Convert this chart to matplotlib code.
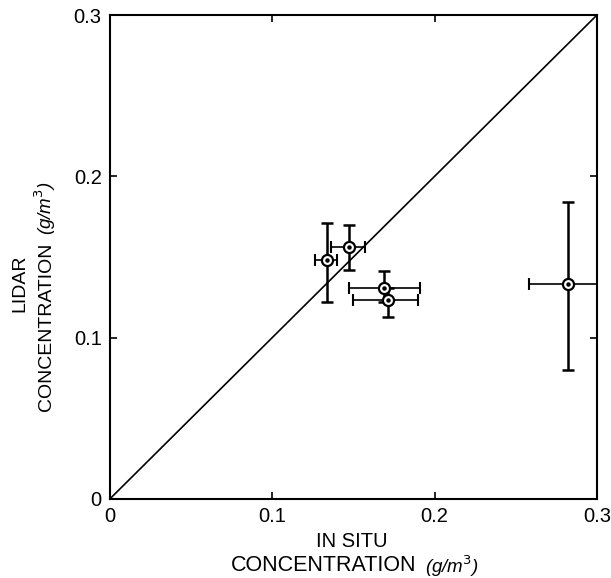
import numpy as np
import matplotlib.pyplot as plt

plt.rcParams["font.family"] = ["Liberation Sans", "DejaVu Sans"]

# in situ vs lidar concentrations (g/m3)
in_situ = np.array([0.134, 0.147, 0.169, 0.171, 0.282])
lidar = np.array([0.148, 0.156, 0.131, 0.123, 0.133])
in_situ_lo = np.array([0.126, 0.136, 0.147, 0.150, 0.258])
in_situ_hi = np.array([0.140, 0.157, 0.191, 0.190, 0.310])
lidar_lo = np.array([0.122, 0.142, 0.122, 0.113, 0.080])
lidar_hi = np.array([0.171, 0.170, 0.141, 0.131, 0.184])
ticks = [0, 0.1, 0.2, 0.3]
tick_labels = ["0", "0.1", "0.2", "0.3"]

fig = plt.figure(figsize=(6.11, 5.78), dpi=100)
ax = fig.add_axes([0.18, 0.137, 0.797, 0.837])

# 1:1 line
ax.plot([0, 0.3], [0, 0.3], color="black", linewidth=1.2)

# vertical bars heavier than the horizontal ones, like the original
ax.errorbar(in_situ, lidar, yerr=[lidar - lidar_lo, lidar_hi - lidar],
            fmt="none", ecolor="black", elinewidth=1.8, capsize=4.5, capthick=1.8)
ax.errorbar(in_situ, lidar, xerr=[in_situ - in_situ_lo, in_situ_hi - in_situ],
            fmt="none", ecolor="black", elinewidth=1.2, capsize=4.5, capthick=1.5)
ax.plot(in_situ, lidar, "o", markersize=8, markerfacecolor="white",
        markeredgecolor="black", markeredgewidth=1.6, zorder=3)
ax.plot(in_situ, lidar, "o", markersize=2.2, color="black", zorder=4)

ax.set_xlim(0, 0.3)
ax.set_ylim(0, 0.3)
ax.set_xticks(ticks)
ax.set_xticklabels(tick_labels)
ax.set_yticks(ticks)
ax.set_yticklabels(tick_labels)
ax.tick_params(direction="in", length=5, width=1.2, labelsize=14.5,
               top=True, right=True, pad=6)
for s in ax.spines.values():
    s.set_linewidth(1.5)

# axis labels
fig.text(0.575, 0.064, "IN SITU", ha="center", va="center", fontsize=14.5)
fig.text(0.53, 0.021, "CONCENTRATION", ha="center", va="center", fontsize=15.5)
fig.text(0.74, 0.021, "(g/m$^3$)", ha="center", va="center",
         fontsize=13.5, style="italic")
fig.text(0.032, 0.51, "LIDAR", ha="center", va="center", fontsize=14,
         rotation=90)
fig.text(0.076, 0.434, "CONCENTRATION", ha="center", va="center",
         fontsize=14, rotation=90)
fig.text(0.074, 0.64, "(g/m$^3$)", ha="center", va="center",
         fontsize=13.5, rotation=90, style="italic")

fig.savefig("out.png", dpi=100)
